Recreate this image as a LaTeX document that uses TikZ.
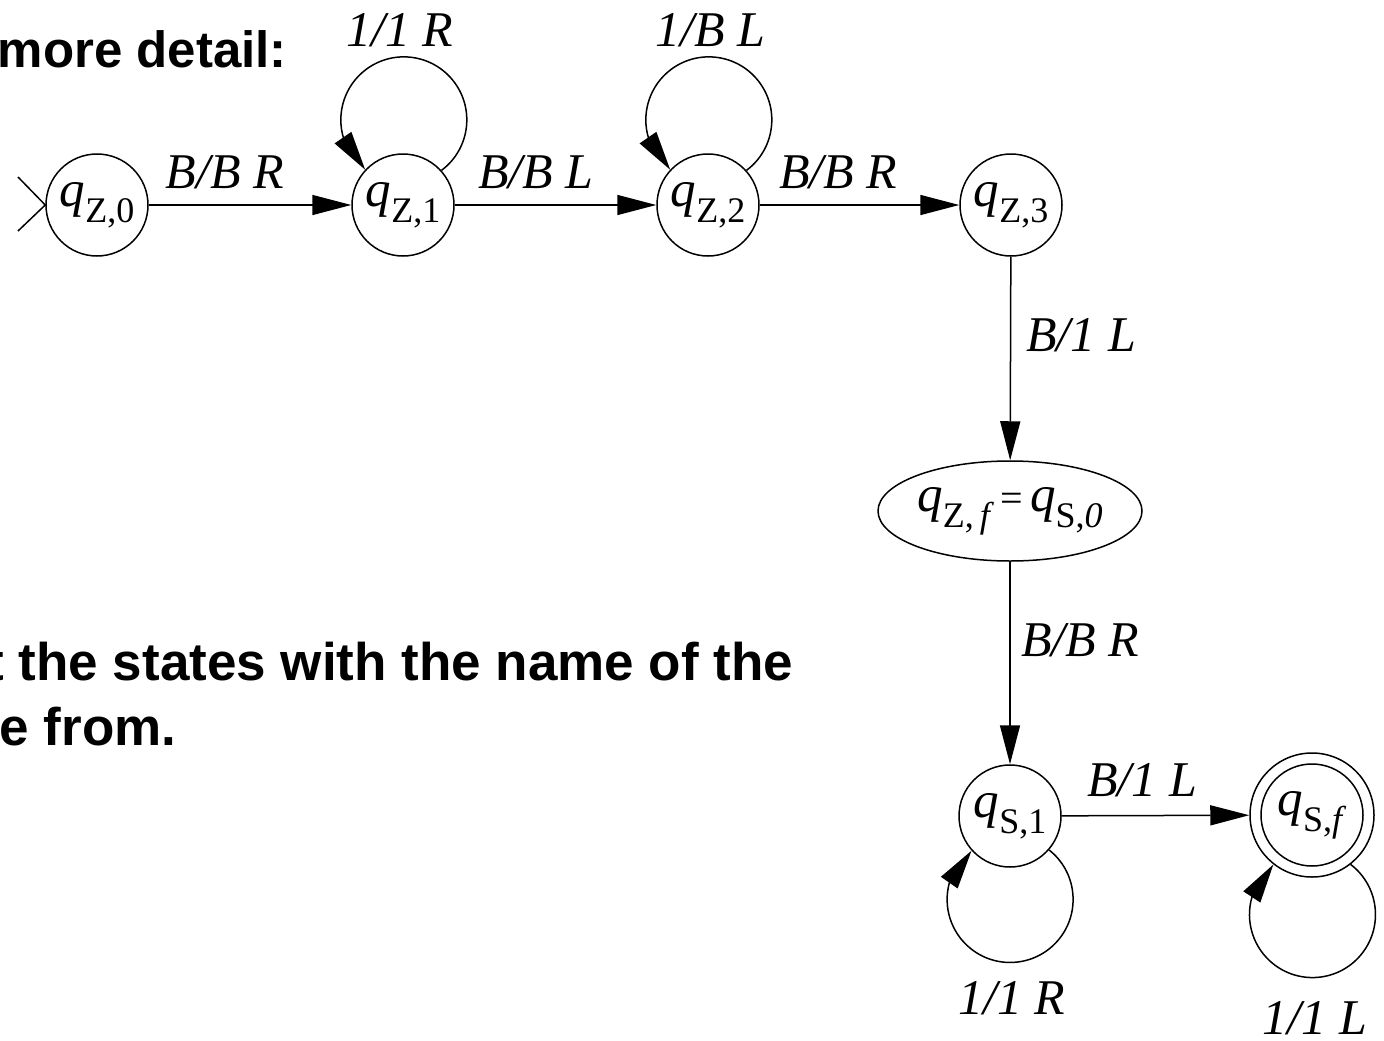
\documentclass[tikz,border=0pt]{standalone}
\usepackage{fontspec}
\setmainfont{Liberation Serif}
\newfontfamily\headfont{Liberation Sans}
\usetikzlibrary{arrows.meta,shapes.geometric}
\newcommand\subsz{\fontsize{36}{36}\selectfont}
\newcommand\stl[1]{\textit{q}\raisebox{-16pt}{\subsz #1}}
\begin{document}
\begin{tikzpicture}[x=1pt,y=1pt,line width=1.5pt,
  state/.style={circle,draw,minimum size=102pt,inner sep=0pt,font=\fontsize{51}{51}\selectfont},
  lab/.style={font=\fontsize{50}{50}\selectfont\itshape,anchor=base,inner sep=0pt},
  head/.style={font=\fontsize{53}{53}\selectfont\headfont\bfseries,anchor=base west,inner sep=0pt},
  arr/.style={-{Triangle[length=39pt,width=20pt]}}]
\useasboundingbox (0,0) rectangle (1384,-1041);
% heading text
\node[head,font=\fontsize{51}{51}\selectfont\headfont\bfseries] (h1) at (-3,-67) {more detail:};
\node[head] (h2) at (-14.4,-680) {t the states with the name of the};
\node[head] (h3) at (-1,-745) {e from.};
% states
\node[state] (z0) at (97,-205) {\stl{Z,0}};
\node[state] (z1) at (403,-205) {\stl{Z,1}};
\node[state] (z2) at (708,-205) {\stl{Z,2}};
\node[state] (z3) at (1011,-205) {\stl{Z,3}};
\node[ellipse,draw,minimum width=264pt,minimum height=100pt,inner sep=0pt,font=\fontsize{51}{51}\selectfont] (zf) at (1010,-511)
  {\stl{Z,\,\textit{f}}{\fontsize{40}{40}\selectfont\,=\,}\stl{S,\textit{0}}};
\node[state] (s1) at (1010,-816) {\stl{S,1}};
\node[state,minimum size=124pt] (sf) at (1312,-815) {};
\node[state] (sfin) at (1312,-815) {\stl{S,\textit{f}}};
% start marker
\coordinate (st1) at (18,-177);
\coordinate (st2) at (18,-231);
\draw (st1) -- (z0.west) -- (st2);
% transitions
\draw[arr] (z0) -- (z1);
\draw[arr] (z1) -- (z2);
\draw[arr] (z2) -- (z3);
\draw[arr] (z3) -- (zf);
\draw[arr] (zf) -- (s1);
\draw[arr] (s1) -- (sf);
% loops
\draw[arr] (z1.42.5) arc[start angle=-53.3,end angle=197.3,radius=63pt] -- (z1.137.5);
\draw[arr] (z2.42.5) arc[start angle=-53.3,end angle=197.3,radius=63pt] -- (z2.137.5);
\draw[arr] (s1.-41.5) arc[start angle=51.8,end angle=-195.8,radius=63pt] -- (s1.-138.5);
\draw[arr] (sf.-52) arc[start angle=52.7,end angle=-196.7,radius=63pt] -- (sf.-128);
% labels
\node[lab] (l01) at (225,-188) {B/B R};
\node[lab] (l12) at (536,-188) {B/B L};
\node[lab] (l23) at (838,-188) {B/B R};
\node[lab] (lz1) at (400,-47) {1/1 R};
\node[lab] (lz2) at (710,-47) {1/B L};
\node[lab] (l3f) at (1081,-351) {B/1 L};
\node[lab] (lfs) at (1080,-656) {B/B R};
\node[lab] (lsf) at (1142,-796) {B/1 L};
\node[lab] (ls1) at (1012,-1014) {1/1 R};
\node[lab] (lsl) at (1315,-1034) {1/1 L};
\end{tikzpicture}
\end{document}
